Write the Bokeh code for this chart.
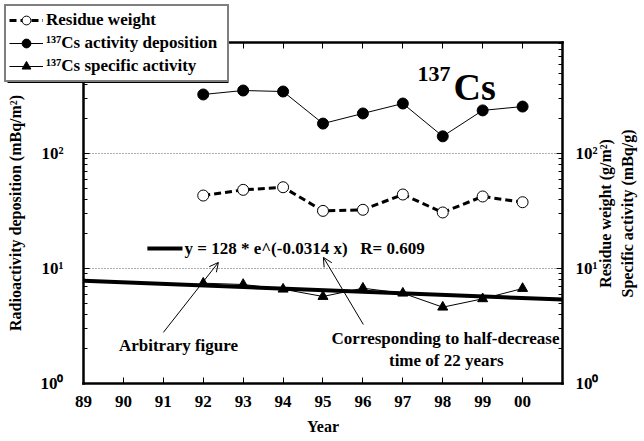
import numpy as np
from bokeh.plotting import figure
from bokeh.models import (Range1d, LogAxis, LinearAxis, FixedTicker, Legend, LegendItem,
                          Label, Arrow, OpenHead, BoxAnnotation)
from bokeh.embed import file_html
from bokeh.resources import INLINE

# ---------------- data ----------------
years = [92, 93, 94, 95, 96, 97, 98, 99, 100]
residue_weight = [43.1, 48.3, 50.9, 31.7, 32.4, 44.0, 30.7, 42.3, 37.7]
cs_deposition = [326, 353, 346, 182, 223, 272, 141, 237, 256]
cs_specific = [7.45, 7.26, 6.61, 5.71, 6.74, 6.10, 4.61, 5.45, 6.70]
fit_a = 128.0
fit_b = -0.0314
x_ticks = [89, 90, 91, 92, 93, 94, 95, 96, 97, 98, 99, 100]
x_tick_labels = ["89", "90", "91", "92", "93", "94", "95", "96", "97", "98", "99", "00"]
y_ticks = [1, 10, 100]
y_tick_labels = ["10⁰", "10¹", "10²"]
grid_values = [10, 100]

# plotting box (data coordinates of the axes frame)
X0, X1 = 89, 101
Y0, Y1 = 1, 923
fit_x = [X0, X1]

FONT = "Liberation Serif"

# the frame fills the whole canvas so the legend can sit in the corner;
# the axes are pinned at the box edges with fixed_location
p = figure(width=644, height=441, frame_width=644, frame_height=441,
           y_axis_type="log", x_range=Range1d(86.9207, 103.0543),
           y_range=Range1d(0.3131, 2140),
           output_backend="svg", toolbar_location=None,
           min_border_left=0, min_border_right=0, min_border_top=0, min_border_bottom=0)
p.background_fill_color = "white"
p.border_fill_color = "white"
p.outline_line_color = None
p.xgrid.grid_line_color = None
p.ygrid.grid_line_color = None

minor = [m * d for d in (1, 10, 100) for m in range(2, 10)]

def style_axis(ax):
    ax.axis_line_width = 2.5
    ax.axis_line_color = "black"
    ax.axis_line_cap = "square"
    ax.major_tick_in = 6
    ax.major_tick_out = 0
    ax.minor_tick_in = 4
    ax.minor_tick_out = 0
    ax.major_tick_line_width = 1
    ax.minor_tick_line_width = 1
    ax.major_label_text_font = FONT
    ax.major_label_text_font_style = "bold"
    ax.major_label_text_font_size = "17px"
    ax.major_label_text_color = "black"
    ax.axis_label_text_font = FONT
    ax.axis_label_text_font_style = "bold"
    ax.axis_label_text_font_size = "16px"
    ax.axis_label_text_color = "black"

# bottom x axis
xa = p.xaxis[0]
xa.fixed_location = Y0
xa.bounds = (X0, X1)
xa.ticker = FixedTicker(ticks=x_ticks)
xa.major_label_overrides = {t: l for t, l in zip(x_ticks, x_tick_labels)}
style_axis(xa)
xa.minor_tick_in = 0
xa.major_label_standoff = 12
xa.axis_label = "Year"
xa.axis_label_standoff = 8

# top axis (ticks only)
ta = LinearAxis(ticker=FixedTicker(ticks=x_ticks), fixed_location=Y1, bounds=(X0, X1))
style_axis(ta)
ta.minor_tick_in = 0
ta.major_label_text_alpha = 0
ta.major_label_text_font_size = "1px"
p.add_layout(ta, "above")

# left y axis
ya = p.yaxis[0]
ya.fixed_location = X0
ya.bounds = (Y0, Y1)
ya.ticker = FixedTicker(ticks=y_ticks, minor_ticks=minor)
ya.major_label_overrides = {t: l for t, l in zip(y_ticks, y_tick_labels)}
style_axis(ya)
ya.major_label_standoff = 20
ya.axis_label = "Radioactivity deposition (mBq/m²)"
ya.axis_label_standoff = 14

# right y axis
ra = LogAxis(ticker=FixedTicker(ticks=y_ticks, minor_ticks=minor), fixed_location=X1,
             bounds=(Y0, Y1))
ra.major_label_overrides = {t: l for t, l in zip(y_ticks, y_tick_labels)}
style_axis(ra)
ra.major_label_standoff = 13
p.add_layout(ra, "right")

# dotted grid lines
p.segment(x0=[X0] * len(grid_values), y0=grid_values, x1=[X1] * len(grid_values),
          y1=grid_values, line_color="black", line_alpha=0.8, line_width=0.8,
          line_dash="1 2")

# fit line
fit_y = [fit_a * np.exp(fit_b * x) for x in fit_x]
p.line(fit_x, fit_y, line_color="black", line_width=4)

# series
l1 = p.line(years, residue_weight, line_color="black", line_width=3, line_dash="7 4")
s1 = p.scatter(years, residue_weight, marker="circle", size=11, fill_color="white",
               line_color="black", line_width=1)
l2 = p.line(years, cs_deposition, line_color="black", line_width=1)
s2 = p.scatter(years, cs_deposition, marker="circle", size=11, fill_color="black",
               line_color="black")
l3 = p.line(years, cs_specific, line_color="black", line_width=1)
s3 = p.scatter(years, cs_specific, marker="triangle", size=10, fill_color="black",
               line_color="black")

# legend shadow
p.add_layout(BoxAnnotation(left=87.096, right=92.633, top=1860, bottom=410,
                           fill_color="black", fill_alpha=1.0, line_color=None,
                           level="underlay"))

legend = Legend(items=[
    LegendItem(label="Residue weight", renderers=[l1, s1]),
    LegendItem(label="¹³⁷Cs activity deposition", renderers=[l2, s2]),
    LegendItem(label="¹³⁷Cs specific activity", renderers=[l3, s3]),
], location=(4, 359))
legend.label_text_font = FONT
legend.label_text_font_style = "bold"
legend.label_text_font_size = "17px"
legend.label_text_color = "black"
legend.glyph_width = 34
legend.glyph_height = 22
legend.label_height = 22
legend.label_width = 178
legend.spacing = 1
legend.padding = 3
legend.margin = 0
legend.label_standoff = 3
legend.border_line_color = "black"
legend.border_line_width = 2
legend.background_fill_alpha = 1.0
legend.background_fill_color = "white"
p.add_layout(legend, "center")

# equation legend
p.segment(x0=[90.60], y0=[14.9], x1=[91.48], y1=[14.9], line_color="black", line_width=4)

def txt(x, y, t, size, align="center", baseline="middle", angle=0.0, x_offset=0):
    p.add_layout(Label(x=x, y=y, text=t, text_font=FONT, text_font_style="bold",
                       text_font_size=size, text_align=align, text_baseline=baseline,
                       text_color="black", angle=angle, x_offset=x_offset))

txt(91.53, 14.9, "y = 128 * e^(-0.0314 x)\u00a0\u00a0\u00a0R= 0.609", "17px", align="left")

# arrows
p.add_layout(Arrow(x_start=91.00, y_start=2.78, x_end=92.38, y_end=11.3,
                   line_color="black", line_width=1,
                   end=OpenHead(size=9, line_color="black", line_width=1)))
p.add_layout(Arrow(x_start=96.01, y_start=3.26, x_end=95.01, y_end=12.5,
                   line_color="black", line_width=1,
                   end=OpenHead(size=9, line_color="black", line_width=1)))

txt(91.38, 2.14, "Arbitrary figure", "17px")
txt(98.07, 2.46, "Corresponding to half-decrease", "17px")
txt(98.09, 1.585, "time of 22 years", "17px")

# title 137Cs
txt(97.37, 496, "137", "22px", align="left", baseline="alphabetic")
txt(98.27, 375, "Cs", "38px", align="left", baseline="alphabetic")

# right axis title (two lines, reading upwards)
txt(X1, 30.1, "Residue weight (g/m²)", "16px", angle=np.pi / 2, x_offset=43)
txt(X1, 30.1, "Specific activity (mBq/g)", "16px", angle=np.pi / 2, x_offset=65)

open("out.html", "w").write(file_html(p, INLINE))
